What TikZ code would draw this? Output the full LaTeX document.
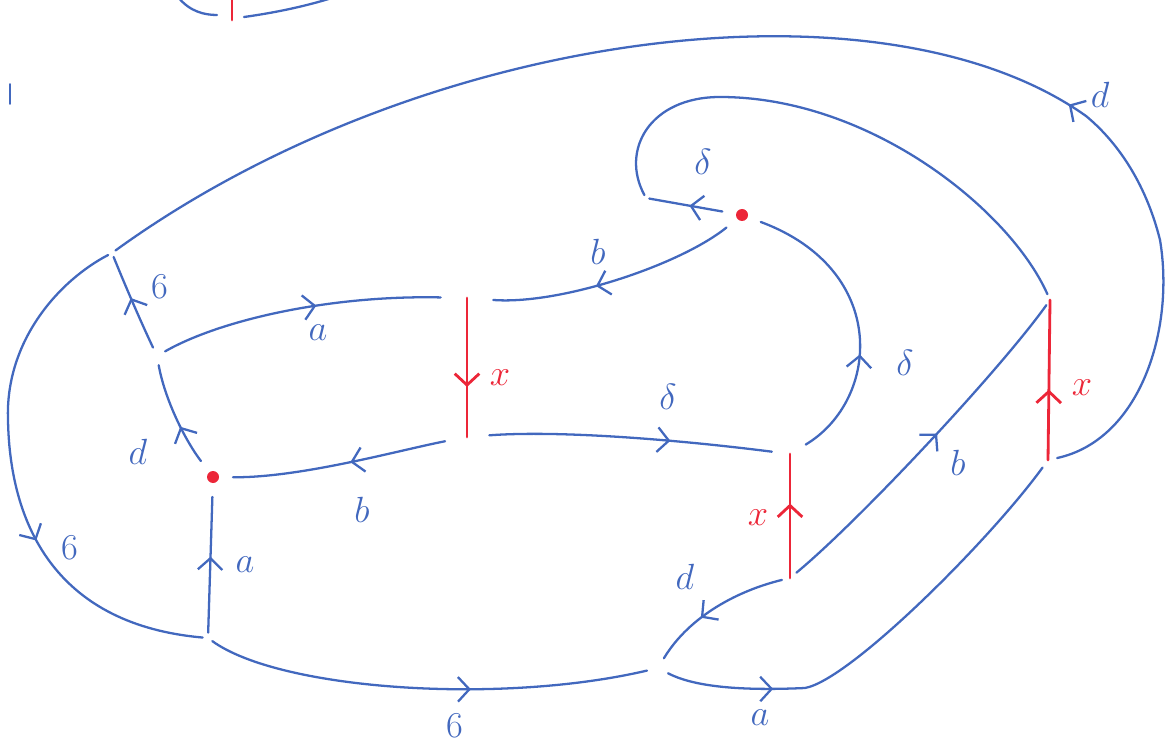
\documentclass[tikz,border=0pt]{standalone}
\usepackage{amsmath, amssymb}
\usepackage{xcolor}
\usetikzlibrary{arrows.meta, decorations.markings}
\definecolor{pen}{RGB}{66, 104, 190}
\definecolor{cut}{RGB}{236, 38, 56}

\begin{document}
\begin{tikzpicture}[x=0.02cm, y=-0.02cm,
    strand/.style={pen, line width=1.3pt, line cap=round},
    slit/.style={cut, line width=1.6pt, line cap=round},
    vtx/.style={circle, inner sep=0pt, minimum size=#1*0.04cm},
    puncture/.style={circle, fill=cut, inner sep=0pt, minimum size=0.24cm,
                     outer sep=#1*0.02cm},
    arr/.style={postaction={decorate}, decoration={markings,
      mark=at position #1 with {\arrow{Straight Barb[length=6.5pt, width=14pt]}}}},
    lbl/.style={pen, font=\huge},
    xlbl/.style={cut, font=\huge}]
  \useasboundingbox (0,0) rectangle (1168,749);

  % Scraps of the previous sketch
  \draw[strand] (178,-3) .. controls (190,12) and (205,15) .. (217,15);
  \draw[slit] (232,0) -- (232,20);
  \draw[strand] (244,17) .. controls (280,12) and (310,5) .. (335,-3);
  \draw[strand, line width=0.9pt] (10,84) -- (10,104);

  % Vertices
  \node[vtx=4] (V1) at (112,253) {};
  \node[vtx=9] (V2) at (157,356) {};
  \node[puncture=14] (P1) at (213,477) {};
  \node[vtx=5] (V3) at (208,638) {};
  \node[vtx=26] (R1t) at (467,298) {};
  \node[vtx=22] (R1b) at (467,437) {};
  \node[puncture=14] (P2) at (742,215) {};
  \node[vtx=3] (V4) at (646,198) {};
  \node[vtx=18] (R2t) at (790,454) {};
  \node[vtx=8] (R2b) at (790,578) {};
  \node[vtx=11] (V5) at (658,668) {};
  \node[vtx=6] (R3t) at (1050,300) {};
  \node[vtx=9] (R3b) at (1048,460) {};
  \coordinate (kink) at (1086,116);

  % Outer loop
  \draw[strand] (R3b) .. controls (1140,440) and (1175,330) .. (1160,240)
    .. controls (1145,180) and (1115,140) .. (kink);
  \draw[strand, arr=0.02] (kink) .. controls (880,-30) and (420,30) .. (V1);
  \draw[strand, arr=0.62] (V1) .. controls (60,280) and (5,340) .. (8,420)
    .. controls (10,530) and (60,625) .. (V3);

  % Left part
  \draw[strand, arr=0.55] (V2) .. controls (140,320) and (125,285) .. (V1);
  \draw[strand, arr=0.38] (P1) .. controls (185,440) and (165,400) .. (V2);
  \draw[strand, arr=0.56] (V2) .. controls (220,320) and (330,295) .. (R1t);
  \draw[strand, arr=0.45] (R1b) .. controls (400,450) and (300,478) .. (P1);
  \draw[strand, arr=0.56] (V3) -- (P1);
  \draw[strand, arr=0.6] (V3) .. controls (280,690) and (500,705) .. (V5);

  % Upper right
  \draw[strand, arr=0.58] (P2) .. controls (680,265) and (560,305) .. (R1t);
  \draw[strand, arr=0.45] (P2) -- (V4);
  \draw[strand] (V4) .. controls (620,150) and (650,97) .. (720,97)
    .. controls (870,97) and (1010,210) .. (R3t);
  \draw[strand, arr=0.64] (R1b) .. controls (560,430) and (680,440) .. (R2t);
  \draw[strand, arr=0.38] (R2t) .. controls (880,400) and (890,270) .. (P2);

  % Lower right
  \draw[strand, arr=0.54] (R2b) .. controls (860,520) and (1000,370) .. (R3t);
  \draw[strand, arr=0.62] (R2b) .. controls (740,590) and (690,615) .. (V5);
  \draw[strand, arr=0.23] (V5) .. controls (700,690) and (760,690) .. (805,688)
    .. controls (850,680) and (990,540) .. (R3b);

  % Cuts
  \draw[slit, arr=0.64] (R1t.center) -- (R1b.center);
  \draw[slit, arr=0.6] (R2b.center) -- (R2t.center);
  \draw[slit, arr=0.44] (R3b.center) -- (R3t.center);

  % Labels
  \node[lbl] (lab-d-top) at (1100,95) {$d$};
  \node[lbl] (lab-b-left) at (160,287) {6};
  \node[lbl] (lab-b-loop) at (70,548) {6};
  \node[lbl] (lab-d-left) at (138,452) {$d$};
  \node[lbl] (lab-a-top) at (318,333) {$a$};
  \node[lbl] (lab-b-mid) at (362,510) {$b$};
  \node[lbl] (lab-a-vert) at (245,565) {$a$};
  \node[lbl] (lab-b-bot) at (455,726) {6};
  \node[lbl] (lab-b-up) at (598,252) {$b$};
  \node[lbl] (lab-g-up) at (703,162) {$\delta$};
  \node[lbl] (lab-g-mid) at (668,397) {$\delta$};
  \node[lbl] (lab-g-right) at (905,363) {$\delta$};
  \node[lbl] (lab-b-diag) at (958,463) {$b$};
  \node[lbl] (lab-d-bot) at (685,577) {$d$};
  \node[lbl] (lab-a-bot) at (760,718) {$a$};
  \node[xlbl] (lab-x-one) at (500,378) {$x$};
  \node[xlbl] (lab-x-two) at (758,518) {$x$};
  \node[xlbl] (lab-x-three) at (1082,388) {$x$};
\end{tikzpicture}
\end{document}
